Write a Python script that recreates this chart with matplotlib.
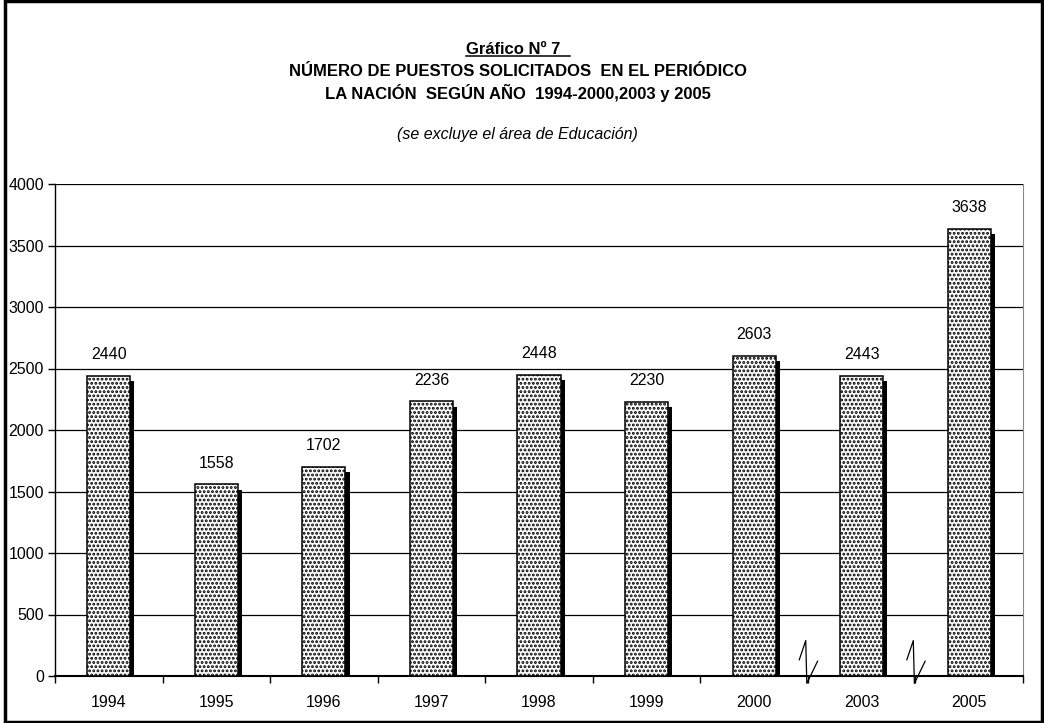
import numpy as np
import matplotlib
matplotlib.use("Agg")
import matplotlib.pyplot as plt
import matplotlib.patheffects as pe
from matplotlib.transforms import blended_transform_factory

plt.rcParams['font.family'] = ['Liberation Sans', 'DejaVu Sans']
plt.rcParams['hatch.linewidth'] = 1.4

years = ["1994", "1995", "1996", "1997", "1998", "1999", "2000", "2003", "2005"]
puestos = [2440, 1558, 1702, 2236, 2448, 2230, 2603, 2443, 3638]
yticks = [0, 500, 1000, 1500, 2000, 2500, 3000, 3500, 4000]
# axis breaks sit between these category pairs
breaks_after = [6, 7]

fig = plt.figure(figsize=(10.44, 7.23), dpi=100)
ax = fig.add_axes([55 / 1044, 1 - 676 / 723, (1023 - 55) / 1044, (676 - 184) / 723])

x = np.arange(len(years))
bars = ax.bar(x, puestos, width=0.4, color='white', edgecolor='black', linewidth=1.1,
              hatch='....', zorder=3)
for b in bars:
    b.set_path_effects([pe.SimplePatchShadow(offset=(3, -4), shadow_rgbFace='black', alpha=1.0),
                        pe.Normal()])

for xi, v in zip(x, puestos):
    ax.text(xi, v + 170, str(v), ha='center', va='center', fontsize=11.5)

ax.set_xlim(-0.5, len(years) - 0.5)
ax.set_ylim(0, 4000)
ax.set_yticks(yticks)
ax.set_yticklabels([str(t) for t in yticks], fontsize=11.5)
ax.set_xticks(x)
ax.set_xticklabels(years, fontsize=11.5)
ax.set_xticks(np.arange(-0.5, len(years), 1), minor=True)
ax.tick_params(axis='x', which='major', length=0, pad=14)
ax.tick_params(axis='x', which='minor', length=5, width=1)
ax.tick_params(axis='y', length=5, width=1, pad=3)
ax.yaxis.grid(True, color='black', linewidth=0.9)
ax.set_axisbelow(True)
ax.spines['top'].set_visible(False)
ax.spines['right'].set_color('#888888')
ax.spines['right'].set_linewidth(0.8)
ax.spines['left'].set_linewidth(1)
ax.spines['bottom'].set_linewidth(1.5)

# break marks on the category axis
tr = blended_transform_factory(ax.transData, ax.transAxes)
for i in breaks_after:
    xm = i + 0.5
    zx = [xm - 0.08, xm - 0.02, xm - 0.01, xm + 0.09]
    zy = [0.033, 0.072, -0.015, 0.03]
    ax.plot(zx, zy, color='black', linewidth=0.9, transform=tr, clip_on=False, zorder=5)

# titles
cx = 0.496
t1 = fig.text(cx, 1 - 49 / 723, "Gráfico Nº 7  ", ha='center', va='center',
              fontsize=12, fontweight='bold')
fig.text(cx, 1 - 72 / 723, "NÚMERO DE PUESTOS SOLICITADOS  EN EL PERIÓDICO",
         ha='center', va='center', fontsize=12, fontweight='bold')
fig.text(cx, 1 - 93 / 723, "LA NACIÓN  SEGÚN AÑO  1994-2000,2003 y 2005",
         ha='center', va='center', fontsize=12, fontweight='bold')
fig.text(cx, 1 - 135 / 723, "(se excluye el área de Educación)", ha='center', va='center',
         fontsize=11.5, style='italic')

# underline first title line
fig.canvas.draw()
bb = t1.get_window_extent().transformed(fig.transFigure.inverted())
fig.add_artist(plt.Line2D([bb.x0, bb.x1], [bb.y0 + 0.001, bb.y0 + 0.001], color='black',
                          linewidth=1.1, transform=fig.transFigure))

# outer frame
fig.add_artist(plt.Rectangle((5 / 1044, 0.002), (1042 - 5) / 1044, 0.996, fill=False,
                             edgecolor='black', linewidth=2.5, transform=fig.transFigure))

fig.savefig("out.png", dpi=100)
